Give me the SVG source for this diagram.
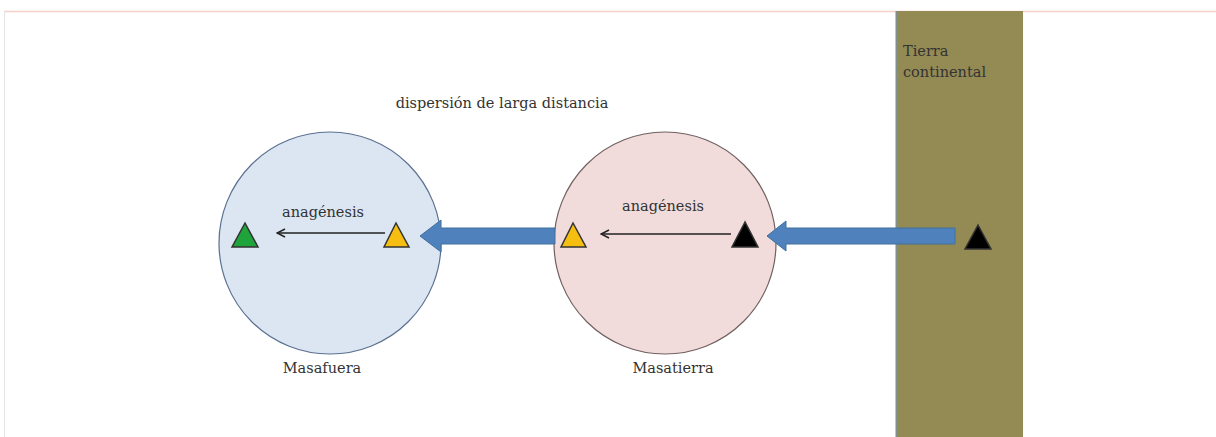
<svg xmlns="http://www.w3.org/2000/svg" width="1216" height="437" viewBox="0 0 1216 437">
<defs>
<style>
.t{font-family:"DejaVu Serif","Liberation Serif",serif;font-size:14.5px;fill:#333}
.tri{stroke:#333;stroke-width:1.5}
.thin{stroke:#222;stroke-width:1.5;fill:none}
.blk{fill:#4F81BD;stroke:#41719C;stroke-width:1}
</style>
<marker id="ah" markerWidth="10" markerHeight="10" refX="9" refY="5" orient="auto" markerUnits="userSpaceOnUse">
<path d="M1,1 L9,5 L1,9" fill="none" stroke="#222" stroke-width="1.5"/>
</marker>
</defs>
<rect width="1216" height="437" fill="#fff"/>
<line x1="4" y1="11.5" x2="1216" y2="11.5" stroke="#f4d0c8" stroke-width="1.5"/>
<line x1="4.5" y1="11" x2="4.5" y2="437" stroke="#e4e4e4" stroke-width="1"/>
<g id="continente">
<rect x="896" y="11" width="127" height="426" fill="#948A54"/>
<line x1="896.5" y1="11" x2="896.5" y2="437" stroke="#7f8f90" stroke-width="2"/>
<text class="t" x="903" y="56" fill="#222">Tierra</text>
<text class="t" x="903" y="77" fill="#222">continental</text>
<polygon class="tri" points="978,225 965,249 991,249" fill="#000"/>
</g>
<g id="masafuera">
<circle cx="330" cy="243" r="111" fill="#DCE6F2" stroke="#5a7090" stroke-width="1.2"/>
<text class="t" x="323" y="217" text-anchor="middle">anagénesis</text>
<polygon class="tri" points="245,223 232,247 258,247" fill="#1FA33B"/>
<polygon class="tri" points="396,223 384,247 409,247" fill="#F5BE10"/>
<text class="t" x="322" y="373" text-anchor="middle">Masafuera</text>
</g>
<g id="masatierra">
<circle cx="665" cy="243" r="111" fill="#F2DCDB" stroke="#706060" stroke-width="1.2"/>
<text class="t" x="663" y="211" text-anchor="middle">anagénesis</text>
<polygon class="tri" points="573,223 561,247 586,247" fill="#F5BE10"/>
<polygon class="tri" points="745,222 732,247 758,247" fill="#000"/>
<text class="t" x="673" y="373" text-anchor="middle">Masatierra</text>
</g>
<g id="connectors">
<line class="thin" x1="385" y1="233" x2="277" y2="233" marker-end="url(#ah)"/>
<line class="thin" x1="731" y1="234" x2="601" y2="234" marker-end="url(#ah)"/>
<polygon class="blk" points="555,228 441,228 441,220 420,236 441,252 441,244 555,244"/>
<polygon class="blk" points="955,228 786,228 786,221 767,236 786,251 786,244 955,244"/>
<text class="t" x="502" y="108" text-anchor="middle">dispersión de larga distancia</text>
</g>
</svg>
